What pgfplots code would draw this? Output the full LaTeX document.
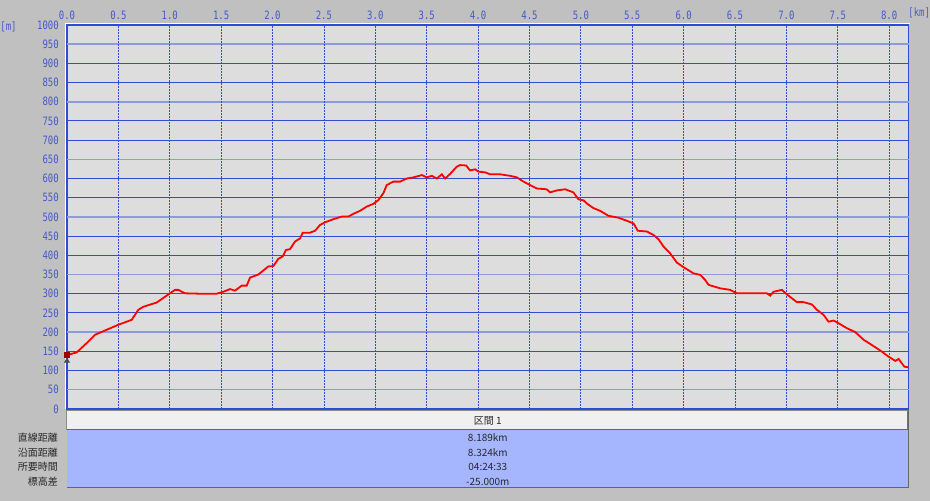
\documentclass[border=0pt]{standalone}
\usepackage{pgfplots}
\pgfplotsset{compat=1.18}
\usepackage{fontspec}
\setmainfont{Liberation Sans}
\newfontfamily\cjk{Noto Sans CJK JP}
\newfontfamily\tickfont[FakeStretch=0.78]{DejaVu Sans Mono}
\definecolor{bgout}{RGB}{192,192,192}
\definecolor{plotbg}{RGB}{221,221,221}
\definecolor{gridblue}{RGB}{50,75,210}
\definecolor{gridlight}{RGB}{140,155,222}
\definecolor{tickblue}{RGB}{70,90,200}
\definecolor{hdrbg}{RGB}{240,240,240}
\definecolor{tblblue}{RGB}{165,182,255}
\definecolor{txtgray}{RGB}{40,40,40}
\begin{document}
\begin{tikzpicture}[x=1bp,y=1bp]
\fill[bgout] (0,0) rectangle (930,501);
% white highlight around plot
\draw[white,line width=1bp] (66,92) -- (66,477) -- (910,477);
\begin{axis}[
  at={(67bp,92bp)}, anchor=south west,
  scale only axis, width=842bp, height=384bp,
  xmin=0, xmax=8.19, ymin=0, ymax=1000,
  xtick={0,0.5,...,8.0}, ytick={0,50,...,1000},
  xticklabel pos=upper,
  major tick length=0pt,
  axis background/.style={fill=plotbg},
  axis line style={draw=gridblue,line width=1.5bp},
  /pgf/number format/assume math mode=true,
  /pgf/number format/1000 sep={},
  ticklabel style={font=\tickfont\fontsize{11.5bp}{13bp}\selectfont, text=tickblue},
  xticklabel style={/pgf/number format/.cd, fixed, fixed zerofill, precision=1, /tikz/.cd, inner sep=0pt, yshift=5bp},
  yticklabel style={/pgf/number format/.cd, fixed, precision=0, 1000 sep={}, /tikz/.cd, inner sep=0pt, xshift=-8bp},
  clip=false,
]
\pgfplotsinvokeforeach{1,...,19}{
  \draw[gridblue,line width=1bp] (axis cs:0,#1*50) -- (axis cs:8.19,#1*50);
}
\pgfplotsinvokeforeach{0,1,...,6}{
  \draw[gridlight,line width=1.6bp] (axis cs:0,50+#1*150) -- (axis cs:8.19,50+#1*150);
}
\pgfplotsinvokeforeach{1,...,16}{
  \draw[gridblue,line width=0.8bp,dash pattern=on 1.5bp off 1.5bp] (axis cs:#1*0.5,0) -- (axis cs:#1*0.5,1000);
}
\addplot[red, line width=1.8bp] coordinates {
(0.000,140) (0.094,147) (0.207,175) (0.273,193) (0.386,206) (0.499,219)
(0.630,232) (0.694,258) (0.743,266) (0.873,277) (1.002,301) (1.051,310)
(1.083,310) (1.148,301) (1.294,300) (1.457,300) (1.521,305) (1.586,312)
(1.635,308) (1.700,321) (1.749,321) (1.781,342) (1.862,350) (1.959,371)
(2.008,372) (2.057,391) (2.099,397) (2.131,414) (2.170,416) (2.219,436)
(2.268,444) (2.294,459) (2.365,459) (2.414,464) (2.462,479) (2.511,486)
(2.592,494) (2.674,501) (2.738,501) (2.787,508) (2.852,516) (2.917,527)
(2.981,534) (3.030,544) (3.079,562) (3.111,583) (3.176,592) (3.241,592)
(3.306,600) (3.371,603) (3.453,609) (3.501,603) (3.550,607) (3.598,600)
(3.647,611) (3.679,600) (3.728,612) (3.793,631) (3.825,635) (3.884,634)
(3.922,621) (3.971,624) (4.004,618) (4.069,616) (4.117,611) (4.215,611)
(4.312,607) (4.377,603) (4.442,592) (4.506,583) (4.571,574) (4.667,572)
(4.701,564) (4.766,569) (4.847,572) (4.927,564) (4.976,546) (5.027,543)
(5.058,535) (5.122,523) (5.187,516) (5.268,503) (5.365,498) (5.447,490)
(5.512,483) (5.554,464) (5.642,462) (5.706,453) (5.755,442) (5.804,423)
(5.869,405) (5.934,381) (5.999,369) (6.096,353) (6.161,349) (6.209,336)
(6.242,323) (6.355,314) (6.453,310) (6.518,301) (6.648,301) (6.810,301)
(6.842,295) (6.875,305) (6.956,310) (7.005,298) (7.102,278) (7.167,278)
(7.248,272) (7.297,258) (7.361,245) (7.410,227) (7.459,230) (7.508,223)
(7.589,210) (7.670,200) (7.751,180) (7.816,169) (7.913,152) (7.994,136)
(8.059,125) (8.092,130) (8.147,110) (8.189,108)
};
\addplot[only marks, mark=square*, mark size=2.5bp, color=red!60!black] coordinates {(0,140)};
\addplot[only marks, mark=triangle*, mark size=3bp, color=black!70] coordinates {(0,125)};
\end{axis}
% units
\node[font=\tickfont\fontsize{11.5bp}{13bp}\selectfont, text=tickblue, inner sep=0pt] at (8.5,474) {[m]};
\node[font=\tickfont\fontsize{11.5bp}{13bp}\selectfont, text=tickblue, inner sep=0pt] at (919.5,488) {[km]};
% table
\fill[hdrbg] (67,71) rectangle (908,90);
\draw[black!45,line width=1bp] (67,71) -- (67,90) -- (908,90);
\draw[black!55,line width=1bp] (908,90) -- (908,71);
\fill[tblblue] (67,13) rectangle (908,71);
\draw[black!60,line width=1bp] (67,71) -- (908,71);
\draw[black!60,line width=1.2bp] (67,13) -- (909,13) -- (909,91);
\node[font=\cjk\fontsize{10bp}{12bp}\selectfont, text=txtgray, inner sep=0pt] at (488,80) {区間 1};
\begin{scope}[every node/.style={font=\cjk\fontsize{10bp}{12bp}\selectfont, text=txtgray, inner sep=0pt}]
\node[anchor=east] at (58,63) {直線距離};
\node[anchor=east] at (58,48) {沿面距離};
\node[anchor=east] at (58,34) {所要時間};
\node[anchor=east] at (58,19) {標高差};
\node at (488,63) {8.189km};
\node at (488,48) {8.324km};
\node at (488,34) {04:24:33};
\node at (488,19) {-25.000m};
\end{scope}
\end{tikzpicture}
\end{document}
